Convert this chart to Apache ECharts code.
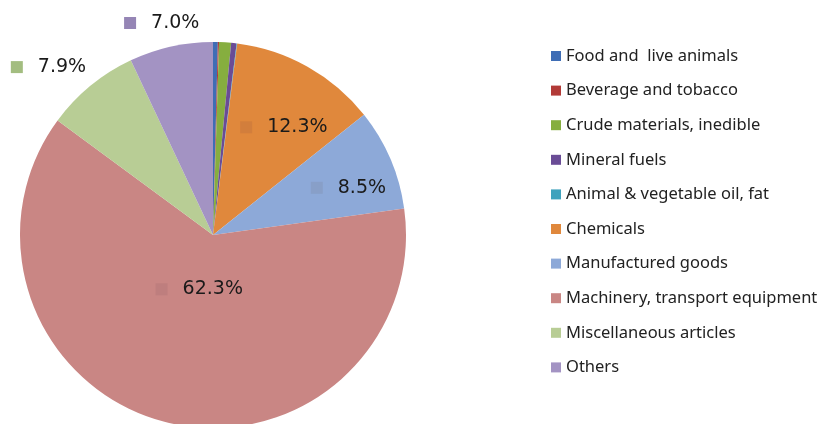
<!DOCTYPE html>
<html><head><meta charset="utf-8">
<script src="https://cdn.jsdelivr.net/npm/echarts@6/dist/echarts.min.js"></script>
<style>html,body{margin:0;padding:0;background:#fff}#c{width:833px;height:424px}</style>
</head><body><div id="c"></div>
<script>
var categories = ['Food and  live animals','Beverage and tobacco','Crude materials, inedible','Mineral fuels','Animal & vegetable oil, fat','Chemicals','Manufactured goods','Machinery, transport equipment','Miscellaneous articles','Others'];
var shares = [0.4, 0.1, 1.0, 0.45, 0.05, 12.3, 8.5, 62.3, 7.9, 7.0];
var labelTexts = ['', '', '', '', '', '12.3%', '8.5%', '62.3%', '7.9%', '7.0%'];
var colors = ['#3F6DB5','#B23A37','#86AE3F','#6A4C96','#3FA2BD','#E0883C','#8DA9D8','#C98684','#B8CD95','#A393C3'];
var squareColors = ['','','','','','#D27E3C','#889FC8','#BE7E7E','#A3BD80','#9585B5'];
// label placement styling: radial distance (fraction of radius) and angular nudge (degrees, clockwise)
var labelRadius = [0,0,0,0,0,0.668,0.743,0.29,1.218,1.13];
var labelNudge = [0,0,0,0,0,4,4,0,-5,-1];

var CX = 213, CY = 235, R = 193;
var data = categories.map(function(n,i){
  var item = {name:n, value:shares[i], itemStyle:{color:colors[i]}};
  if (labelTexts[i]) {
    item.label = {show:true, position:'inside', formatter:'{sq|}{gap|}{v|'+labelTexts[i]+'}',
      rich:{sq:{width:12,height:12,backgroundColor:squareColors[i]}, gap:{width:15},
        v:{fontSize:19,fontFamily:'DejaVu Sans',color:'#1a1a1a'}}};
  } else {
    item.label = {show:false};
  }
  return item;
});

var chart = echarts.init(document.getElementById('c'), null, {renderer:'canvas'});
chart.setOption({
  animation:false,
  legend:{orient:'vertical', left:546, top:42, itemWidth:10, itemHeight:10, itemGap:16.6, icon:'rect',
    textStyle:{fontFamily:'Noto Sans', fontSize:16.5, color:'#222', lineHeight:18},
    itemStyle:{borderWidth:0}, data:categories},
  series:[{type:'pie', center:[CX,CY], radius:[0,R], startAngle:90, clockwise:true,
    avoidLabelOverlap:false, itemStyle:{borderWidth:0}, labelLine:{show:false},
    emphasis:{disabled:true}, data:data,
    labelLayout:function(p){
      var i = p.dataIndex, k = labelRadius[i];
      if (!k) return {};
      var lx = p.labelRect.x + p.labelRect.width/2, ly = p.labelRect.y + p.labelRect.height/2;
      var a = Math.atan2(lx-CX, -(ly-CY)) + labelNudge[i]*Math.PI/180;
      return {x: CX + Math.sin(a)*k*R, y: CY - Math.cos(a)*k*R, align:'center', verticalAlign:'middle'};
    }
  }]
});
</script></body></html>
